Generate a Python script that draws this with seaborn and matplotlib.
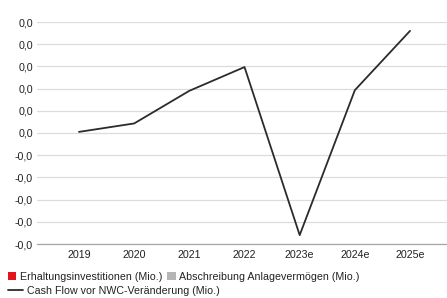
import numpy as np
import pandas as pd
import matplotlib
matplotlib.use("Agg")
import matplotlib.pyplot as plt
from matplotlib.patches import Patch
from matplotlib.lines import Line2D
import seaborn as sns

years = ["2019", "2020", "2021", "2022", "2023e", "2024e", "2025e"]
erhaltung = [0, 0, 0, 0, 0, 0, 0]
abschreibung = [0, 0, 0, 0, 0, 0, 0]
cashflow = [0.0005, 0.0043, 0.019, 0.0297, -0.046, 0.0193, 0.046]
yticks = [-0.05, -0.04, -0.03, -0.02, -0.01, 0.0, 0.01, 0.02, 0.03, 0.04, 0.05]
ytick_labels = ["-0,0", "-0,0", "-0,0", "-0,0", "-0,0", "0,0", "0,0", "0,0", "0,0", "0,0", "0,0"]

name_bar1 = "Erhaltungsinvestitionen (Mio.)"
name_bar2 = "Abschreibung Anlagevermögen (Mio.)"
name_line = "Cash Flow vor NWC-Veränderung (Mio.)"

red = "#e3141b"
grey = "#b5b5b5"
linec = "#2b2b2b"

sns.set_theme(style="white")
plt.rcParams["font.family"] = ["Liberation Sans", "DejaVu Sans"]

W, H = 447, 298
fig = plt.figure(figsize=(W / 100, H / 100), dpi=100)
ax = fig.add_axes([37 / W, (H - 244) / H, (447 - 37) / W, (244 - 22) / H])

bars = pd.DataFrame({
    "Jahr": years * 2,
    "Wert": erhaltung + abschreibung,
    "Serie": [name_bar1] * len(years) + [name_bar2] * len(years),
})
sns.barplot(data=bars, x="Jahr", y="Wert", hue="Serie",
            palette=[red, grey], ax=ax, legend=False, width=0.6,
            linewidth=0, edgecolor="none")

line_df = pd.DataFrame({"pos": np.arange(len(years)), "Wert": cashflow})
sns.lineplot(data=line_df, x="pos", y="Wert", color=linec, linewidth=1.3,
             ax=ax, sort=False)

ax.set_xlim(-0.761, 6.67)
ax.set_ylim(-0.05, 0.05)
ax.set_xticks(range(len(years)))
ax.set_xticklabels(years)
ax.set_yticks(yticks)
ax.set_yticklabels(ytick_labels)
ax.set_xlabel("")
ax.set_ylabel("")
ax.tick_params(axis="both", length=0, labelsize=7.7, colors="#222222")
ax.tick_params(axis="y", pad=3)
ax.tick_params(axis="x", pad=4)

ax.grid(axis="y", color="#dcdcdc", linewidth=0.9)
ax.grid(axis="x", visible=False)
ax.set_axisbelow(True)
for s in ["top", "right", "left"]:
    ax.spines[s].set_visible(False)
ax.spines["bottom"].set_color("#a6a6a6")
ax.spines["bottom"].set_linewidth(0.9)

h1 = [Patch(facecolor=red, edgecolor="none", label=name_bar1),
      Patch(facecolor=grey, edgecolor="none", label=name_bar2)]
leg1 = fig.legend(handles=h1, loc="center left", bbox_to_anchor=(8 / W, 1 - 277 / H),
                  ncol=2, frameon=False, fontsize=7.7, handlelength=0.75,
                  handleheight=0.75, handletextpad=0.35, columnspacing=0.5,
                  borderpad=0, borderaxespad=0)
h2 = [Line2D([0], [0], color=linec, linewidth=1.3, label=name_line)]
leg2 = fig.legend(handles=h2, loc="center left", bbox_to_anchor=(8 / W, 1 - 291 / H),
                  frameon=False, fontsize=7.7, handlelength=1.4,
                  handletextpad=0.35, borderpad=0, borderaxespad=0)
for lg in (leg1, leg2):
    for t in lg.get_texts():
        t.set_color("#222222")

fig.savefig("out.png", dpi=100)
